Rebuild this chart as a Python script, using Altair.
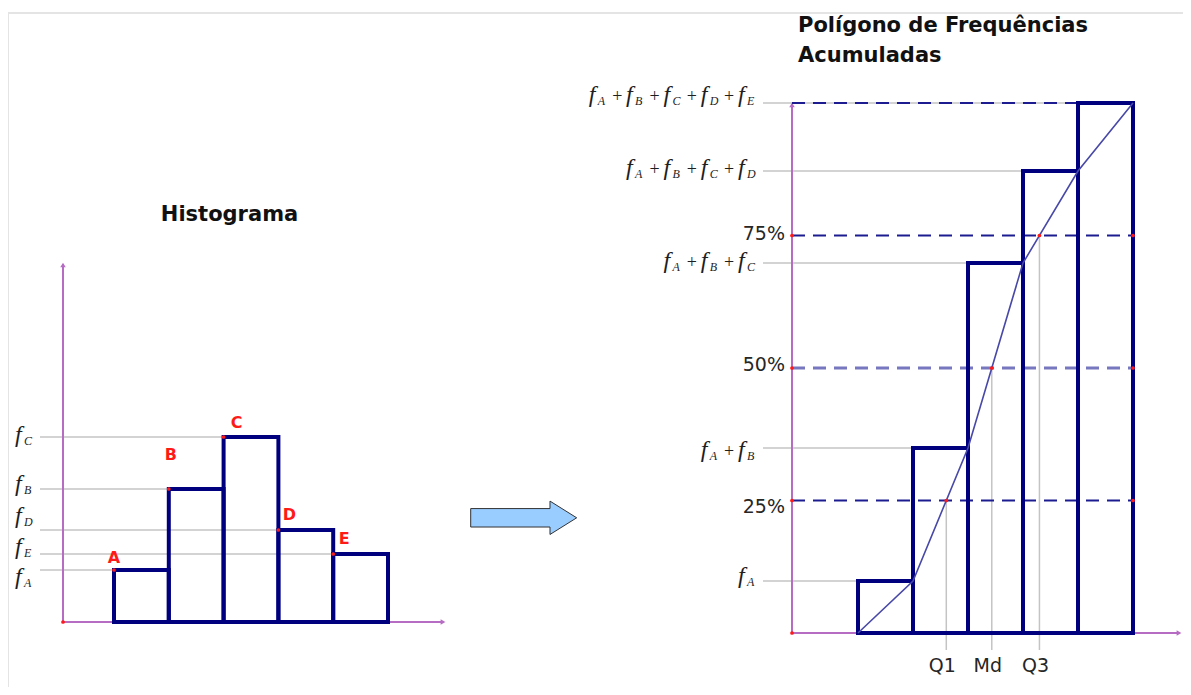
import altair as alt
import numpy as np
import pandas as pd

# ---------------- data ----------------
classes = ["A", "B", "C", "D", "E"]
freqs = [5.2, 13.3, 18.5, 9.2, 6.8]
levels = [0.25, 0.50, 0.75]
level_labels = ["25%", "50%", "75%"]
quartile_names = ["Q1", "Md", "Q3"]
left_title = "Histograma"
right_title = ["Polígono de Frequências", "Acumuladas"]

# ---------------- layout / style constants (pixels inside the chart) ----------------
W, H = 1175, 679
NAVY = "#00007f"
OGIVE = "#4848a8"
PURPLE = "#b56cc2"
GRAY = "#c4c4c4"
RED = "#ff1a1a"
TXT = "#1e1e1e"

LX = [106, 380]   # left panel: class bounds 0..5
LY = [614, 514]   # left panel: frequency 0..10
RX = [850, 1125]  # right panel: class bounds 0..5
RY = [625, 525]   # right panel: frequency 0..10


def inv(rng, dom, px):
    return dom[0] + (px - rng[0]) * (dom[1] - dom[0]) / (rng[1] - rng[0])


def lx(px):
    return inv(LX, [0, 5], px)


def rx(px):
    return inv(RX, [0, 5], px)


def ry(px):
    return inv(RY, [0, 10], px)


lxs = alt.Scale(domain=[0, 5], range=LX, nice=False, zero=False)
lys = alt.Scale(domain=[0, 10], range=LY, nice=False, zero=False)
rxs = alt.Scale(domain=[0, 5], range=RX, nice=False, zero=False)
rys = alt.Scale(domain=[0, 10], range=RY, nice=False, zero=False)

one = pd.DataFrame({"k": [0]})

cum = np.cumsum(freqs)
N = float(cum[-1])

# ---------------- left panel: histogram ----------------
letter_dx = [0, 2, 13, 11, 11]        # px
letter_dy = [-12, -34, -14, -15, -15]  # px
left_nudge = [8, -4, -1, -13, -6]      # px, label centre vs line

hist = pd.DataFrame({
    "cls": classes,
    "x0": np.arange(5, dtype=float),
    "x1": np.arange(1, 6, dtype=float),
    "f": freqs,
})
hist["base"] = 0.0
hist["ref_start"] = lx(32)
hist["lab_x"] = hist["x0"] + np.array(letter_dx) / ((LX[1] - LX[0]) / 5)
hist["lab_y"] = hist["f"] - np.array(letter_dy) / 10.0

lpieces = []
for i, c in enumerate(classes):
    yc = freqs[i] - left_nudge[i] / 10.0
    lpieces.append({"kind": "f", "t": "f", "x": lx(7), "y": yc})
    lpieces.append({"kind": "s", "t": c, "x": lx(16), "y": yc})
lpieces = pd.DataFrame(lpieces)


def LXe(f):
    return alt.X(f, type="quantitative", scale=lxs, axis=None)


def LYe(f):
    return alt.Y(f, type="quantitative", scale=lys, axis=None)


F_STYLE = dict(font="Liberation Serif", fontStyle="italic", fontSize=24, align="left",
               baseline="alphabetic", dy=6, color=TXT)
S_STYLE = dict(font="Liberation Serif", fontStyle="italic", fontSize=12, align="left",
               baseline="alphabetic", dy=9, color=TXT)
P_STYLE = dict(font="Liberation Serif", fontSize=18, align="center", baseline="alphabetic",
               dy=6, color=TXT)

left_ref = alt.Chart(hist).mark_rule(color=GRAY, strokeWidth=1.5).encode(
    x=LXe("ref_start"), x2="x0", y=LYe("f"))
left_bars = alt.Chart(hist).mark_rect(
    fill="white", fillOpacity=0, stroke=NAVY, strokeWidth=4, strokeJoin="miter").encode(
    x=LXe("x0"), x2="x1", y=LYe("base"), y2="f")
left_dots = alt.Chart(hist).mark_point(filled=True, color=RED, size=14, opacity=1).encode(
    x=LXe("x0"), y=LYe("f"))
left_letters = alt.Chart(hist).mark_text(
    font="DejaVu Sans", fontWeight="bold", fontSize=16, color=RED, baseline="middle").encode(
    x=LXe("lab_x"), y=LYe("lab_y"), text="cls")
left_f = alt.Chart(lpieces).transform_filter(alt.datum.kind == "f").mark_text(**F_STYLE).encode(
    x=LXe("x"), y=LYe("y"), text="t")
left_s = alt.Chart(lpieces).transform_filter(alt.datum.kind == "s").mark_text(**S_STYLE).encode(
    x=LXe("x"), y=LYe("y"), text="t")

left_axes = [
    alt.Chart(one).mark_rule(color=PURPLE, strokeWidth=2).encode(
        x=alt.value(55), y=alt.value(256), y2=alt.value(614)),
    alt.Chart(one).mark_rule(color=PURPLE, strokeWidth=2).encode(
        x=alt.value(55), x2=alt.value(435), y=alt.value(614)),
    alt.Chart(one).mark_point(shape="triangle-up", filled=True, color=PURPLE, size=30, opacity=1).encode(
        x=alt.value(55), y=alt.value(257)),
    alt.Chart(one).mark_point(shape="triangle-right", filled=True, color=PURPLE, size=30, opacity=1).encode(
        x=alt.value(435), y=alt.value(614)),
    alt.Chart(one).mark_point(filled=True, color=RED, size=14, opacity=1).encode(
        x=alt.value(55), y=alt.value(614)),
]

left = alt.layer(left_ref, *left_axes, left_bars, left_dots, left_letters, left_f, left_s)

# ---------------- right panel: cumulative frequency polygon ----------------
right_nudge = [-4, 3, -1, -2, -7]
pct_dy = [6, -3, -2]

cumdf = pd.DataFrame({
    "x0": np.arange(5, dtype=float),
    "x1": np.arange(1, 6, dtype=float),
    "c": cum,
})
cumdf["base"] = 0.0
cumdf["ref_start"] = rx(755)

ogive = pd.DataFrame({"x": np.arange(0, 6, dtype=float), "c": np.concatenate([[0.0], cum])})

dash = pd.DataFrame({"lvl": levels + [1.0]})
dash["y"] = dash["lvl"] * N
dash["xs"] = rx(784)
dash["xe"] = 5.0

qx = np.interp(np.array(levels) * N, ogive["c"], ogive["x"])
qdf = pd.DataFrame({"name": quartile_names, "pct": level_labels, "x": qx,
                    "y": np.array(levels) * N})
qdf["ybot"] = ry(642)
qdf["ylab"] = ry(658)
qdf["xs"] = rx(784)
qdf["xe"] = 5.0
qdf["xl"] = rx(777)
qdf["ypl"] = qdf["y"] - np.array(pct_dy) / 10.0

rpieces = []
R_END, STEP = 747, 37.3
for k in range(1, 6):
    yc = cum[k - 1] - right_nudge[k - 1] / 10.0
    for j in range(k):
        xf = R_END - 17 - (k - 1 - j) * STEP
        rpieces.append({"kind": "f", "t": "f", "x": rx(xf), "y": yc})
        rpieces.append({"kind": "s", "t": classes[j], "x": rx(xf + 9), "y": yc})
        if j < k - 1:
            rpieces.append({"kind": "p", "t": "+", "x": rx(xf + 28.5), "y": yc})
rpieces = pd.DataFrame(rpieces)


def RXe(f):
    return alt.X(f, type="quantitative", scale=rxs, axis=None)


def RYe(f):
    return alt.Y(f, type="quantitative", scale=rys, axis=None)


right_ref = alt.Chart(cumdf).mark_rule(color=GRAY, strokeWidth=1.5).encode(
    x=RXe("ref_start"), x2="x0", y=RYe("c"))
q_lines = alt.Chart(qdf).mark_rule(color=GRAY, strokeWidth=1.5).encode(
    x=RXe("x"), y=RYe("y"), y2="ybot")
dash_main = alt.Chart(dash).transform_filter(alt.datum.lvl != 0.5).mark_rule(
    color="#1c1c90", strokeWidth=2, strokeDash=[13, 8]).encode(
    x=RXe("xs"), x2="xe", y=RYe("y"))
dash_mid = alt.Chart(dash).transform_filter(alt.datum.lvl == 0.5).mark_rule(
    color="#7777c0", strokeWidth=3, strokeDash=[13, 8]).encode(
    x=RXe("xs"), x2="xe", y=RYe("y"))
right_bars = alt.Chart(cumdf).mark_rect(
    fill="white", fillOpacity=0, stroke=NAVY, strokeWidth=4, strokeJoin="miter").encode(
    x=RXe("x0"), x2="x1", y=RYe("base"), y2="c")
ogive_line = alt.Chart(ogive).mark_line(color=OGIVE, strokeWidth=1.6).encode(
    x=RXe("x"), y=RYe("c"))
dots_q = alt.Chart(qdf).mark_point(filled=True, color=RED, size=14, opacity=1).encode(
    x=RXe("x"), y=RYe("y"))
dots_l = alt.Chart(qdf).mark_point(filled=True, color=RED, size=14, opacity=1).encode(
    x=RXe("xs"), y=RYe("y"))
dots_r = alt.Chart(qdf).mark_point(filled=True, color=RED, size=14, opacity=1).encode(
    x=RXe("xe"), y=RYe("y"))
q_text = alt.Chart(qdf).mark_text(
    font="DejaVu Sans", fontSize=19, color="#262626", baseline="middle", dx=-4).encode(
    x=RXe("x"), y=RYe("ylab"), text="name")
pct_text = alt.Chart(qdf).mark_text(
    font="DejaVu Sans", fontSize=19, color="#262626", baseline="middle", align="right").encode(
    x=RXe("xl"), y=RYe("ypl"), text="pct")
right_f = alt.Chart(rpieces).transform_filter(alt.datum.kind == "f").mark_text(**F_STYLE).encode(
    x=RXe("x"), y=RYe("y"), text="t")
right_s = alt.Chart(rpieces).transform_filter(alt.datum.kind == "s").mark_text(**S_STYLE).encode(
    x=RXe("x"), y=RYe("y"), text="t")
right_p = alt.Chart(rpieces).transform_filter(alt.datum.kind == "p").mark_text(**P_STYLE).encode(
    x=RXe("x"), y=RYe("y"), text="t")

right_axes = [
    alt.Chart(one).mark_rule(color=PURPLE, strokeWidth=2).encode(
        x=alt.value(784), y=alt.value(96), y2=alt.value(625)),
    alt.Chart(one).mark_rule(color=PURPLE, strokeWidth=2).encode(
        x=alt.value(784), x2=alt.value(1171), y=alt.value(625)),
    alt.Chart(one).mark_point(shape="triangle-up", filled=True, color=PURPLE, size=30, opacity=1).encode(
        x=alt.value(784), y=alt.value(97)),
    alt.Chart(one).mark_point(shape="triangle-right", filled=True, color=PURPLE, size=30, opacity=1).encode(
        x=alt.value(1171), y=alt.value(625)),
    alt.Chart(one).mark_point(filled=True, color=RED, size=14, opacity=1).encode(
        x=alt.value(784), y=alt.value(625)),
]

right = alt.layer(right_ref, q_lines, *right_axes, dash_main, dash_mid, right_bars,
                  ogive_line, dots_q, dots_l, dots_r, q_text, pct_text, right_f, right_s, right_p)

# ---------------- decorations: frame, titles, arrow ----------------
ARROW = "M-1,-0.174L0.496,-0.174L0.496,-0.315L1,0L0.496,0.315L0.496,0.174L-1,0.174Z"
deco = [
    alt.Chart(one).mark_rule(color="#e4e4e4", strokeWidth=2).encode(
        x=alt.value(0), x2=alt.value(W), y=alt.value(5)),
    alt.Chart(one).mark_rule(color="#e4e4e4", strokeWidth=2).encode(
        x=alt.value(0), y=alt.value(5), y2=alt.value(H)),
    alt.Chart(one).mark_text(font="DejaVu Sans", fontWeight="bold", fontSize=21, color="#111111",
                             baseline="middle", align="center").encode(
        x=alt.value(221.5), y=alt.value(207), text=alt.value(left_title)),
    alt.Chart(one).mark_text(font="DejaVu Sans", fontWeight="bold", fontSize=21, color="#111111",
                             baseline="alphabetic", align="left").encode(
        x=alt.value(790), y=alt.value(24), text=alt.value(right_title[0])),
    alt.Chart(one).mark_text(font="DejaVu Sans", fontWeight="bold", fontSize=21, color="#111111",
                             baseline="alphabetic", align="left").encode(
        x=alt.value(790), y=alt.value(54), text=alt.value(right_title[1])),
    alt.Chart(one).mark_point(shape=ARROW, size=11236, filled=True, fill="#99ccff", fillOpacity=1,
                              stroke="#333333", strokeWidth=1, strokeOpacity=1, opacity=1).encode(
        x=alt.value(515.7), y=alt.value(509.8)),
]

chart = alt.layer(left, right, *deco).resolve_scale(x="independent", y="independent").properties(
    width=W, height=H, padding=0, autosize=alt.AutoSizeParams(type="none"), background="white"
).configure_view(strokeWidth=0)

chart.save("out.html", embed_options={"renderer": "svg", "actions": False})
